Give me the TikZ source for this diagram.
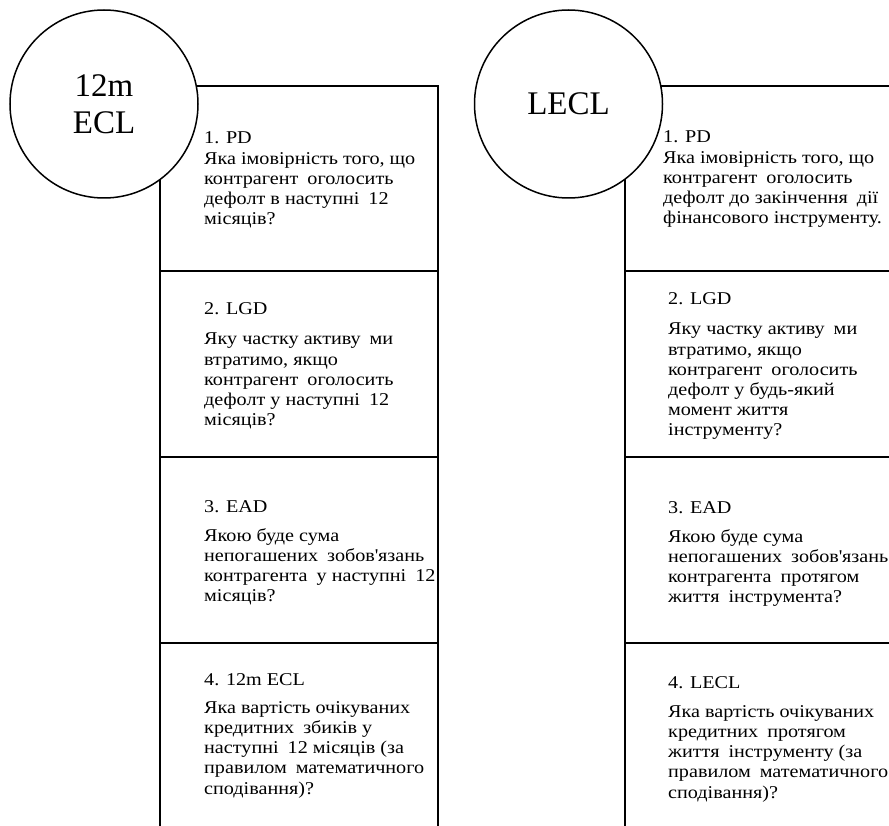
\documentclass[tikz,border=0pt]{standalone}
\usepackage{fontspec}
\setmainfont{Liberation Serif}
\newfontfamily\bodyfont[FakeStretch=1.12]{Liberation Serif}
\newcommand{\wsp}{\hspace{0.5em}}
\usetikzlibrary{calc}

\begin{document}
\begin{tikzpicture}[x=1pt,y=-1pt,
  frame/.style={line width=1.5pt, draw=black},
  cell/.style={rectangle, inner sep=0pt, outer sep=0pt, anchor=north west},
  lcell/.style={cell, minimum width=278pt},
  rcell/.style={cell, minimum width=264pt},
  big/.style={circle, draw=black, line width=1.5pt, fill=white, inner sep=0pt, minimum size=188pt, font=\fontsize{33}{37}\selectfont, align=center},
  txt/.style={anchor=base west, inner sep=0pt, font=\bodyfont\fontsize{18}{20.2}\selectfont}
]
\useasboundingbox (0,0) rectangle (889,826);

% left column cells
\node[lcell, minimum height=185pt] (L1) at (160,86) {};
\node[lcell, minimum height=186pt] (L2) at (160,271) {};
\node[lcell, minimum height=186pt] (L3) at (160,457) {};
\node[lcell, minimum height=183pt] (L4) at (160,643) {};

% right column cells
\node[rcell, minimum height=185pt] (R1) at (625,86) {};
\node[rcell, minimum height=186pt] (R2) at (625,271) {};
\node[rcell, minimum height=186pt] (R3) at (625,457) {};
\node[rcell, minimum height=183pt] (R4) at (625,643) {};

% left frame
\draw[frame] (L4.south west) -- (L1.north west) -- (L1.north east) -- (L4.south east);
\draw[frame] (L1.south west) -- (L1.south east);
\draw[frame] (L2.south west) -- (L2.south east);
\draw[frame] (L3.south west) -- (L3.south east);

% right frame
\draw[frame] (R1.north east) -- (R1.north west) -- (R4.south west);
\draw[frame] (R1.south west) -- (R1.south east);
\draw[frame] (R2.south west) -- (R2.south east);
\draw[frame] (R3.south west) -- (R3.south east);

% texts, left
\node[txt] (tL1) at ($(L1.north west)+(44,58)$) {\parbox[t]{270pt}{1. PD\\Яка імовірність того, що\\контрагент\wsp оголосить\\дефолт в наступні\wsp 12\\місяців?}};
\node[txt] (tL2) at ($(L2.north west)+(44,44)$) {\parbox[t]{270pt}{2. LGD\\[9.8pt]Яку частку активу\wsp ми\\втратимо, якщо\\контрагент\wsp оголосить\\дефолт у наступні\wsp 12\\місяців?}};
\node[txt] (tL3) at ($(L3.north west)+(44,55)$) {\parbox[t]{270pt}{3. EAD\\[9pt]Якою буде сума\\непогашених\wsp зобов\textquotesingle язань\\контрагента\wsp у наступні\wsp 12\\місяців?}};
\node[txt] (tL4) at ($(L4.north west)+(44,42)$) {\parbox[t]{270pt}{4. 12m ECL\\[8pt]Яка вартість очікуваних\\кредитних\wsp збиків у\\наступні\wsp 12 місяців (за\\правилом\wsp математичного\\сподівання)?}};

% texts, right
\node[txt] (tR1) at ($(R1.north west)+(38,57)$) {\parbox[t]{260pt}{1. PD\\Яка імовірність того, що\\контрагент\wsp оголосить\\дефолт до закінчення\wsp дії\\фінансового інструменту.}};
\node[txt] (tR2) at ($(R2.north west)+(43,34)$) {\parbox[t]{260pt}{2. LGD\\[9.8pt]Яку частку активу\wsp ми\\втратимо, якщо\\контрагент\wsp оголосить\\дефолт у будь-який\\момент життя\\інструменту?}};
\node[txt] (tR3) at ($(R3.north west)+(43,56)$) {\parbox[t]{260pt}{3. EAD\\[9pt]Якою буде сума\\непогашених\wsp зобов\textquotesingle язань\\контрагента\wsp протягом\\життя\wsp інструмента?}};
\node[txt] (tR4) at ($(R4.north west)+(43,45)$) {\parbox[t]{260pt}{4. LECL\\[9pt]Яка вартість очікуваних\\кредитних\wsp протягом\\життя\wsp інструменту (за\\правилом\wsp математичного\\сподівання)?}};

% circles
\node[big] (C1) at (104,104) {12m\\ECL};
\node[big] (C2) at (568.5,104) {LECL};
\end{tikzpicture}
\end{document}
